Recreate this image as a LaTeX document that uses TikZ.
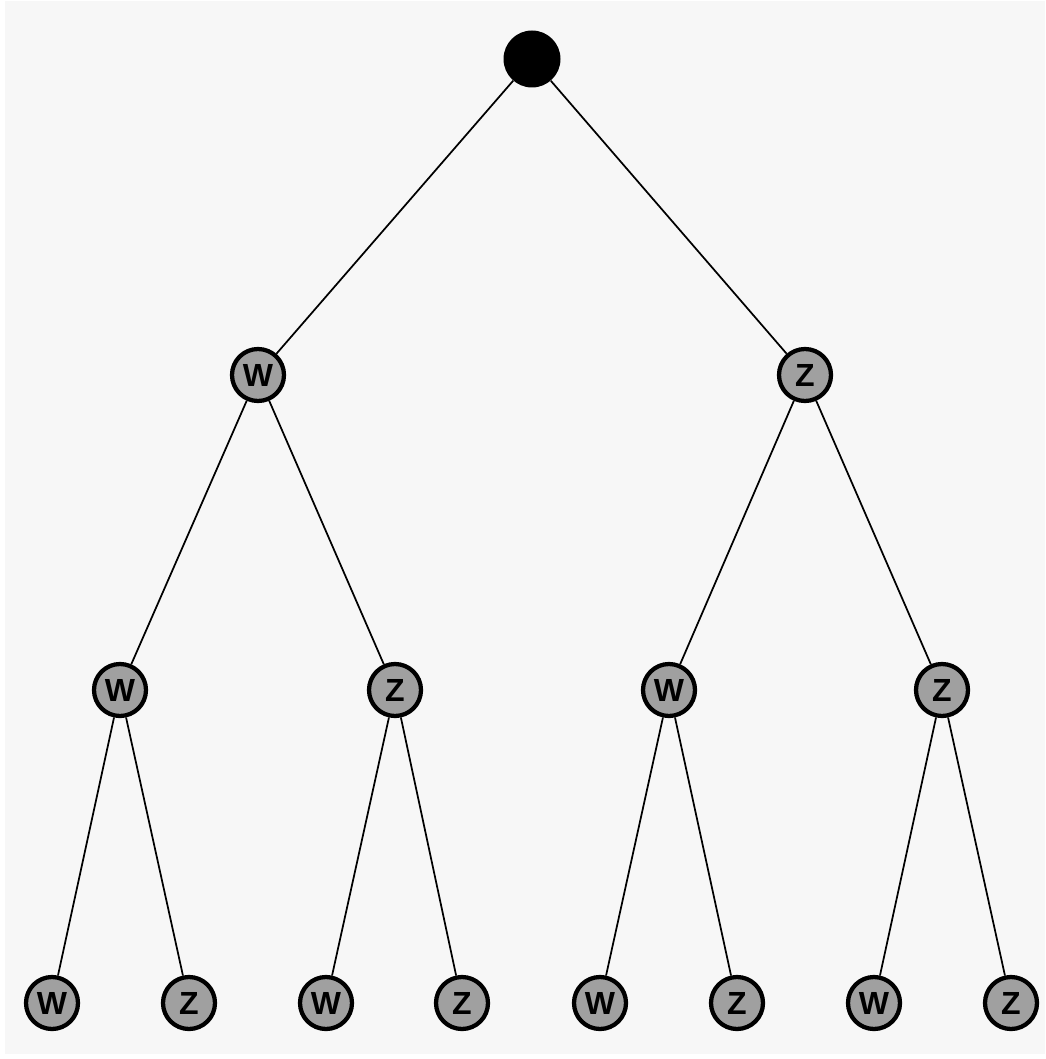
\documentclass[tikz,border=0pt]{standalone}
\usepackage{fontspec}
\setmainfont{Liberation Sans}
\newfontfamily\leaffont{Liberation Sans}[BoldFont=Liberation Sans Bold]
\usepackage{tikz}
\usetikzlibrary{positioning}
\definecolor{treebg}{RGB}{247, 247, 247}
\definecolor{treegray}{RGB}{160, 160, 160}

\begin{document}
\begin{tikzpicture}[
    x=0.75pt, y=-0.75pt,
    leaf/.style={circle, draw=black, line width=3.2pt, fill=treegray, minimum size=52*0.75pt, inner sep=0pt, font=\leaffont\bfseries\fontsize{24}{26}\selectfont},
    rootnode/.style={circle, fill=black, minimum size=57*0.75pt, inner sep=0pt},
    edge/.style={line width=1.3pt, black}
]

% Background and frame
\fill[white] (0, 0) rectangle (1045, 1059);
\fill[treebg] (5, 1) rectangle (1045, 1054);
\useasboundingbox (0, 0) rectangle (1045, 1059);

% Root
\node[rootnode] (r) at (532, 59) {};
% Level 1
\node[leaf] (w) at (258, 375) {W};
\node[leaf] (z) at (805, 375) {Z};
% Level 2
\node[leaf] (ww) at (120, 690) {W};
\node[leaf] (wz) at (395, 690) {Z};
\node[leaf] (zw) at (669, 690) {W};
\node[leaf] (zz) at (942, 690) {Z};
% Level 3
\node[leaf] (www) at (52, 1003) {W};
\node[leaf] (wwz) at (189, 1003) {Z};
\node[leaf] (wzw) at (326, 1003) {W};
\node[leaf] (wzz) at (462, 1003) {Z};
\node[leaf] (zww) at (600, 1003) {W};
\node[leaf] (zwz) at (737, 1003) {Z};
\node[leaf] (zzw) at (874, 1003) {W};
\node[leaf] (zzz) at (1011, 1003) {Z};

% Branches
\draw[edge] (r) -- (w);
\draw[edge] (r) -- (z);
\foreach \p in {w, z, ww, wz, zw, zz} {
    \draw[edge] (\p) -- (\p w);
    \draw[edge] (\p) -- (\p z);
}

\end{tikzpicture}
\end{document}
